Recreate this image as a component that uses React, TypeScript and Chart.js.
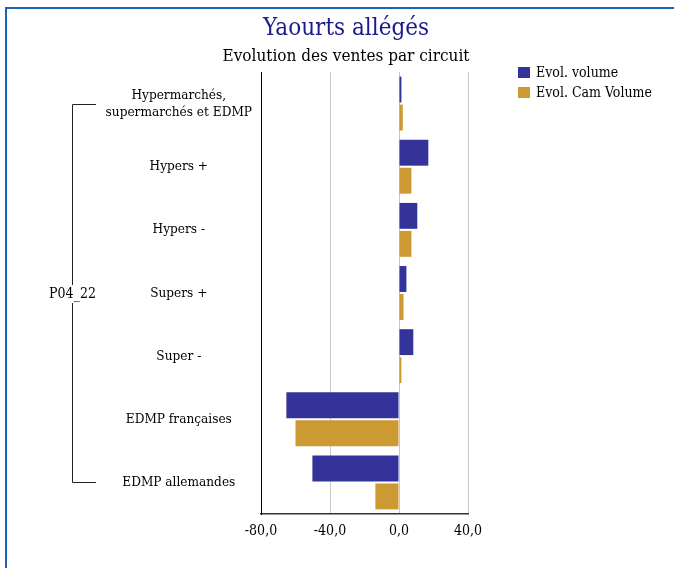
import React, { useEffect, useRef } from 'react';
import { Chart, registerables } from 'chart.js';

Chart.register(...registerables);

const chartTitle = 'Yaourts allégés';
const chartSubtitle = 'Evolution des ventes par circuit';
const groupLabel = 'P04_22';
const categories: (string | string[])[] = [
  ['Hypermarchés,', 'supermarchés et EDMP'],
  'Hypers +',
  'Hypers -',
  'Supers +',
  'Super -',
  'EDMP françaises',
  'EDMP allemandes',
];
const seriesLabels = ['Evol. volume', 'Evol. Cam Volume'];
const evolVolume = [1.4, 17.0, 10.6, 4.3, 8.3, -65.3, -50.2];
const evolCamVolume = [2.2, 7.2, 7.2, 2.6, 1.4, -60.0, -13.7];
const xMin = -80;
const xMax = 40;
const xStep = 40;

const FONT = '"DejaVu Serif Condensed", "DejaVu Serif", serif';
const BLUE = '#333399';
const GOLD = '#cc9933';
const TEXT = '#000000';

const decorPlugin = {
  id: 'decor',
  afterDraw(chart: any) {
    const ctx = chart.ctx as CanvasRenderingContext2D;
    const yScale = chart.scales.y;
    ctx.save();
    // frame
    ctx.fillStyle = '#1862b8';
    ctx.fillRect(5, 7, 674, 2);
    ctx.fillRect(5, 7, 2, 568);
    // title
    ctx.textAlign = 'center';
    ctx.textBaseline = 'alphabetic';
    ctx.fillStyle = '#1a1a8a';
    ctx.font = `24px ${FONT}`;
    ctx.fillText(chartTitle, 346, 35);
    ctx.fillStyle = TEXT;
    ctx.font = `17px ${FONT}`;
    ctx.fillText(chartSubtitle, 346, 61);
    // legend
    const colors = [BLUE, GOLD];
    ctx.font = `14px ${FONT}`;
    ctx.textAlign = 'left';
    ctx.textBaseline = 'middle';
    seriesLabels.forEach((lab, i) => {
      const yy = 67 + i * 20;
      ctx.fillStyle = colors[i];
      ctx.fillRect(518, yy, 12, 11);
      ctx.fillStyle = TEXT;
      ctx.fillText(lab, 536, yy + 6);
    });
    // group bracket
    const yTop = yScale.getPixelForValue(0);
    const yBot = yScale.getPixelForValue(categories.length - 1);
    const yMid = (yTop + yBot) / 2 + 1;
    const bx = 72.5;
    ctx.strokeStyle = '#222222';
    ctx.lineWidth = 1;
    ctx.beginPath();
    ctx.moveTo(96, Math.round(yTop) + 0.5);
    ctx.lineTo(bx, Math.round(yTop) + 0.5);
    ctx.lineTo(bx, yMid - 9);
    ctx.moveTo(bx, yMid + 9);
    ctx.lineTo(bx, Math.round(yBot) + 0.5);
    ctx.lineTo(96, Math.round(yBot) + 0.5);
    ctx.stroke();
    ctx.fillStyle = TEXT;
    ctx.textAlign = 'center';
    ctx.textBaseline = 'middle';
    ctx.font = `14px ${FONT}`;
    ctx.fillText(groupLabel, bx, yMid);
    ctx.restore();
  },
};

export default function App() {
  const ref = useRef<HTMLCanvasElement | null>(null);
  useEffect(() => {
    document.body.style.margin = '0';
    const canvas = ref.current;
    if (!canvas) return;
    const chart = new Chart(canvas, {
      type: 'bar',
      data: {
        labels: categories,
        datasets: [
          {
            label: seriesLabels[0],
            data: evolVolume,
            backgroundColor: BLUE,
            categoryPercentage: 0.887,
            barPercentage: 0.925,
          },
          {
            label: seriesLabels[1],
            data: evolCamVolume,
            backgroundColor: GOLD,
            categoryPercentage: 0.887,
            barPercentage: 0.925,
          },
        ],
      },
      options: {
        indexAxis: 'y',
        animation: false,
        responsive: false,
        maintainAspectRatio: false,
        devicePixelRatio: 1,
        layout: { padding: { top: 72, left: 0, right: 206, bottom: 0 } },
        plugins: {
          legend: { display: false },
          title: { display: false },
          tooltip: { enabled: false },
        },
        scales: {
          x: {
            type: 'linear',
            min: xMin,
            max: xMax,
            afterFit: (s: any) => { s.height = 54; },
            afterBuildTicks: (s: any) => {
              const t = [];
              for (let v = xMin; v <= xMax; v += xStep) t.push({ value: v });
              s.ticks = t;
            },
            ticks: {
              color: TEXT,
              font: { family: FONT, size: 14 },
              padding: 9,
              callback: (v: any) => Number(v).toFixed(1).replace('.', ','),
            },
            grid: { color: '#c8c8c8', lineWidth: 1, drawTicks: false, tickLength: 0 },
            border: { display: true, color: '#333333', width: 1.5 },
          },
          y: {
            type: 'category',
            afterFit: (s: any) => { s.width = 261; },
            ticks: {
              color: TEXT,
              font: { family: FONT, size: 13.5, lineHeight: 1.25 },
              crossAlign: 'center',
              padding: 9,
              autoSkip: false,
            },
            grid: { display: false, drawTicks: false, tickLength: 0 },
            border: { display: true, color: '#000000', width: 1 },
          },
        },
      },
      plugins: [decorPlugin],
    });
    return () => chart.destroy();
  }, []);
  return (
    <div style={{ width: 674, height: 568, position: 'relative', background: '#fff' }}>
      <canvas ref={ref} width={674} height={568} style={{ display: 'block', width: 674, height: 568 }} />
    </div>
  );
}
